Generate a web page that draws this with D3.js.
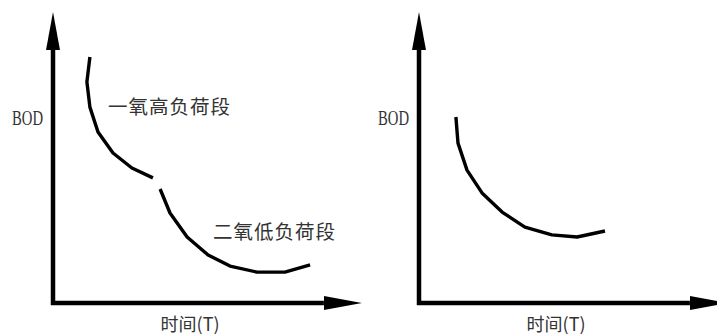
<!DOCTYPE html>
<html>
<head>
<meta charset="utf-8">
<script src="https://cdn.jsdelivr.net/npm/d3@7"></script>
<style>
  body { margin: 0; background: #fff; }
  svg { display: block; }
  .label { font-family: "Noto Sans CJK SC", sans-serif; fill: #333; }
</style>
</head>
<body>
<div id="chart"></div>
<script>
// BOD curves (time, BOD) on a 0-100 scale
var highLoad = [
  [12.3, 82], [11.3, 73.7], [12.3, 65.3], [15, 57], [20, 50], [26.3, 45], [33.3, 41.7]
];
var lowLoad = [
  [35.7, 38], [39, 30], [44.7, 22], [51.7, 16], [59, 12.3], [68, 10.3], [77.3, 10.3], [85.7, 12.7]
];
var singleStage = [
  [12.3, 62], [13, 53.3], [16, 44.3], [21, 36.7], [27.7, 30.3], [35.3, 25.3],
  [44.3, 22.7], [52.7, 22], [62, 24]
];
var stageLabels = ["一氧高负荷段", "二氧低负荷段"];
var labelPos = [[18.3, 65.3], [53.3, 23.7]];
var yTitle = "BOD";
var xTitle = "时间(T)";

var width = 717, height = 336;

var svg = d3.select("#chart")
  .append("svg")
  .attr("width", width)
  .attr("height", height);

// arrow heads
var defs = svg.append("defs");
defs.append("marker")
  .attr("id", "arrow")
  .attr("viewBox", "0 0 38 14")
  .attr("refX", 0)
  .attr("refY", 7)
  .attr("markerWidth", 38)
  .attr("markerHeight", 14)
  .attr("markerUnits", "userSpaceOnUse")
  .attr("orient", "auto")
  .append("path")
  .attr("d", "M0,0L38,7L0,14Z")
  .attr("fill", "#000");

function panel(originX, series, labels) {
  var x = d3.scaleLinear().domain([0, 100]).range([originX, originX + 300]);
  var y = d3.scaleLinear().domain([0, 100]).range([303, 3]);

  var g = svg.append("g");

  // axes without ticks, then stretched with an arrow
  var xAxis = d3.axisBottom(x).tickValues([]).tickSizeOuter(0);
  var yAxis = d3.axisLeft(y).tickValues([]).tickSizeOuter(0);

  g.append("g")
    .attr("transform", "translate(0," + y(0) + ")")
    .call(xAxis)
    .select(".domain")
    .attr("d", "M" + (x(0) - 2) + ",0H" + x(90.3))
    .attr("stroke", "#000")
    .attr("stroke-width", 4.5)
    .attr("marker-end", "url(#arrow)");

  g.append("g")
    .attr("transform", "translate(" + x(0) + ",0)")
    .call(yAxis)
    .select(".domain")
    .attr("d", "M0," + (y(0) + 2) + "V" + y(84.3))
    .attr("stroke", "#000")
    .attr("stroke-width", 4.5)
    .attr("marker-end", "url(#arrow)");

  var line = d3.line()
    .x(function(d) { return x(d[0]); })
    .y(function(d) { return y(d[1]); });

  series.forEach(function(s) {
    g.append("path")
      .datum(s)
      .attr("d", line)
      .attr("fill", "none")
      .attr("stroke", "#000")
      .attr("stroke-width", 3.4)
      .attr("stroke-linejoin", "round");
  });

  labels.forEach(function(l) {
    g.append("text")
      .attr("class", "label")
      .attr("x", x(l.pos[0]))
      .attr("y", y(l.pos[1]))
      .attr("dy", "0.36em")
      .attr("textLength", 122)
      .attr("lengthAdjust", "spacing")
      .style("font-size", "19.5px")
      .text(l.text);
  });

  g.append("text")
    .attr("x", x(0) - 10)
    .attr("y", y(61.7))
    .attr("dy", "0.35em")
    .attr("text-anchor", "end")
    .attr("textLength", 31)
    .attr("lengthAdjust", "spacingAndGlyphs")
    .style("font-family", "'Liberation Serif', serif")
    .style("font-size", "21px")
    .style("fill", "#333")
    .text(yTitle);

  g.append("text")
    .attr("class", "label")
    .attr("x", x(45.7))
    .attr("y", y(-7.2))
    .attr("dy", "0.36em")
    .attr("text-anchor", "middle")
    .style("font-size", "18px")
    .text(xTitle);
}

panel(53, [highLoad, lowLoad], [
  {text: stageLabels[0], pos: labelPos[0]},
  {text: stageLabels[1], pos: labelPos[1]}
]);
panel(419, [singleStage], []);
</script>
</body>
</html>
